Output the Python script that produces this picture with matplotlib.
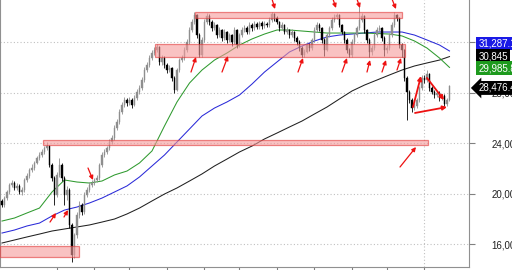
import numpy as np
import matplotlib.pyplot as plt
from matplotlib.patches import Rectangle

plt.rcParams['font.family'] = ['Liberation Sans', 'DejaVu Sans']

# daily candles (index 0..179)
closes = [19090, 19640, 20120, 20670, 20830, 20440, 20600, 20120, 20280, 21070,
          21390, 21860, 22020, 22420, 22810, 23050, 23290, 23600, 23760, 22260,
          21230, 19880, 21470, 22260, 21230, 19880, 20280, 17510, 15130, 16710,
          18300, 19090, 18540, 19880, 20280, 20670, 20830, 21070, 21230, 22260,
          23050, 23290, 23600, 24080, 24400, 25190, 25660, 26460, 27010, 27410,
          27170, 27410, 27010, 27560, 28040, 28360, 28990, 29780, 30180, 30730,
          31130, 31370, 31600, 30420, 30730, 30180, 29780, 29940, 29150, 28200,
          29780, 30570, 30730, 31370, 32000, 32950, 33580, 34140, 32550, 30970,
          32160, 33580, 34060, 33580, 33110, 33350, 32550, 32950, 32320, 32790,
          32160, 32550, 32000, 32950, 31760, 32550, 32950, 33110, 32790, 33350,
          33110, 33430, 33190, 33500, 33270, 33430, 33350, 33740, 34220, 33900,
          33580, 33110, 33350, 32790, 32950, 32550, 32790, 32320, 32000, 31520,
          30970, 31210, 31760, 31520, 32160, 32950, 33350, 33110, 32160, 31370,
          32550, 33110, 33740, 33980, 34140, 33350, 32790, 32160, 31370, 30970,
          32000, 32550, 33110, 33740, 34060, 32950, 32160, 31210, 31520, 32550,
          32950, 33110, 32320, 31370, 31520, 32550, 33350, 34140, 33900, 31760,
          31370, 29150, 28040, 27410, 26770, 26930, 27410, 28360, 29150, 28990,
          29470, 28360, 28040, 27800, 27960, 27560, 27720, 27090, 27410, 28476.4]
highs = [19600, 19800, 20300, 20850, 21050, 21000, 20800, 20750, 20500, 21250,
         21600, 22050, 22300, 22600, 23000, 23250, 23500, 23800, 24100, 23850,
         22400, 21400, 21700, 22800, 22400, 21350, 20600, 20400, 17700, 16900,
         18500, 19400, 19250, 20100, 20500, 20900, 21050, 21250, 21450, 22450,
         23250, 23500, 23800, 24300, 24600, 25400, 25900, 26700, 27250, 27650,
         27600, 27650, 27550, 27800, 28250, 28600, 29250, 30000, 30450, 30950,
         31350, 31600, 31840, 31700, 31000, 30900, 30350, 30200, 30050, 29300,
         29950, 30750, 30950, 31600, 32250, 33200, 33800, 34350, 34250, 32700,
         32400, 33800, 34300, 34200, 33750, 33600, 33450, 33150, 33050, 33000,
         32900, 32750, 32650, 33150, 33050, 32750, 33150, 33350, 33250, 33550,
         33500, 33650, 33600, 33700, 33650, 33650, 33600, 33950, 34380, 34300,
         34050, 33700, 33550, 33450, 33150, 33050, 33000, 32900, 32450, 32150,
         31650, 31450, 31950, 31900, 32350, 33150, 33550, 33500, 33200, 32300,
         32750, 33300, 33950, 34200, 34300, 34250, 33450, 32900, 32300, 31500,
         32200, 32750, 33300, 35090, 34300, 34150, 33050, 32300, 31750, 32750,
         33150, 33350, 33200, 32450, 31750, 32750, 33550, 34380, 34250, 34000,
         31900, 31450, 29300, 28200, 27550, 27150, 27600, 28550, 29350, 29400,
         29780, 29550, 28500, 28200, 28150, 28100, 27900, 27850, 27600, 28560]
lows = [18900, 18950, 19500, 20000, 20500, 20300, 20250, 19950, 19900, 20150,
        20900, 21250, 21700, 21900, 22300, 22650, 22900, 23150, 23450, 22100,
        21000, 19090, 19700, 21300, 21000, 19090, 19500, 17300, 14580, 14900,
        16500, 18100, 18300, 18400, 19700, 20100, 20500, 20650, 20900, 21100,
        22100, 22900, 23150, 23450, 23900, 24250, 25000, 25500, 26300, 26850,
        26900, 27000, 26800, 26900, 27400, 27900, 28200, 28800, 29600, 30000,
        30550, 31000, 31200, 30200, 30200, 29950, 29550, 29600, 28950, 27960,
        28100, 29600, 30400, 30600, 31200, 31850, 32800, 33400, 32350, 30810,
        30850, 32000, 33400, 33350, 32900, 32950, 32300, 32400, 32100, 32150,
        31900, 32000, 31700, 31850, 31500, 31600, 32400, 32800, 32600, 32650,
        32900, 32950, 33000, 33050, 33050, 33100, 33150, 33200, 33600, 33700,
        33400, 32900, 32950, 32600, 32600, 32350, 32400, 32100, 31800, 31300,
        30810, 30850, 31100, 31300, 31400, 32000, 32800, 32900, 31950, 30890,
        31250, 32400, 32950, 33600, 33800, 33150, 32600, 31950, 31150, 30810,
        30850, 31850, 32400, 32950, 33600, 32750, 31950, 30810, 31000, 31400,
        32400, 32800, 32100, 30890, 31150, 31400, 32400, 33200, 33650, 31550,
        30810, 28950, 25820, 27150, 26460, 26600, 26750, 27250, 28200, 28750,
        28800, 28150, 27850, 27600, 27650, 27350, 27400, 26930, 26950, 27300]
first_open = 19400
opens = [first_open] + closes[:-1]

# moving averages, read every 5 candles
ma_idx = list(range(0, 180, 5)) + [179]
ma_green = [17820, 18060, 18460, 18850, 20120, 21070, 20910, 20830, 20990, 21470,
            21780, 22420, 23370, 25350, 27250, 28750, 29780, 30570, 31130, 31760,
            32240, 32630, 32950, 32950, 32870, 32790, 32710, 32710, 32710, 32710,
            32670, 32630, 32480, 32080, 31520, 30730, 29985.8]
ma_blue = [16870, 17110, 17430, 17660, 18220, 18690, 18930, 19250, 19640, 20120,
           20600, 21310, 22180, 23050, 24080, 25110, 26140, 26770, 27250, 27800,
           28670, 29620, 30420, 31210, 31680, 32080, 32400, 32550, 32630, 32710,
           32790, 32790, 32790, 32550, 32160, 31760, 31287.1]
ma_black = [16080, 16320, 16560, 16790, 17030, 17190, 17350, 17510, 17740, 17980,
            18380, 18850, 19410, 19960, 20440, 20990, 21550, 22180, 22730, 23290,
            23760, 24320, 24790, 25270, 25740, 26300, 26850, 27490, 28120, 28590,
            28990, 29390, 29780, 30100, 30340, 30570, 30845]

# zones: (start, end, low, high)
zones = [(-0.8, 30.8, 14970, 15840),
         (16.4, 170.4, 23840, 24240),
         (61.2, 161.2, 30810, 31840),
         (77.2, 160.0, 33900, 34380)]

# arrows: (tail_i, tail_p, tip_i, tip_p)
arrows = [(75.6, 29620, 77.6, 30810), (88.0, 29620, 90.4, 30890),
          (118.4, 29620, 120.4, 30730), (136.0, 29620, 138.0, 30730),
          (146.0, 29620, 147.2, 30570), (152.0, 29620, 153.6, 30570),
          (158.0, 29780, 159.6, 30730),
          (108.0, 35400, 109.2, 34610), (132.4, 35400, 133.6, 34690),
          (142.0, 35400, 143.2, 34690), (156.0, 35400, 157.6, 34610),
          (19.2, 17740, 21.6, 18460), (24.8, 18140, 26.4, 18690),
          (34.4, 22020, 36.4, 21070),
          (159.2, 22100, 165.6, 23680)]
trend_arrows = [(164.4, 26850, 167.6, 29310), (170.0, 29150, 176.8, 27410),
                (165.2, 26380, 178.0, 26850)]

tick_idx = [22, 37, 51, 66, 81, 95, 110, 125, 140, 154, 169]
yticks = [16000, 20000, 24000, 28000, 32000]

fig = plt.figure(figsize=(5.12, 2.7), dpi=100)
ax = fig.add_axes([0, 3 / 270, 469 / 512, 267 / 270])
ax.set_xlim(-0.8, 186.8)
ax.set_ylim(14180, 35326)

for y in yticks:
    ax.axhline(y, color='#c0c0c0', lw=0.8, ls=(0, (1, 2)), zorder=0)
ax.axvline(169, color='#c0c0c0', lw=0.8, ls=(0, (1, 2)), zorder=0)

idx = np.arange(len(closes))
o = np.array(opens, dtype=float)
c = np.array(closes, dtype=float)
up = c >= o
cols = np.where(up, '#8e8e8e', '#000000')
ax.vlines(idx, lows, highs, colors=cols, lw=0.6, zorder=3)
ax.bar(idx, np.abs(c - o) + 30, bottom=np.minimum(o, c), width=0.6,
       color=cols, edgecolor=cols, lw=0.3, zorder=3)

ax.plot(ma_idx, ma_black, color='#202020', lw=0.75, zorder=2)
ax.plot(ma_idx, ma_blue, color='#2a2ad8', lw=0.75, zorder=2)
ax.plot(ma_idx, ma_green, color='#2f9a2f', lw=0.75, zorder=2)

for x0, x1, lo, hi in zones:
    ax.add_patch(Rectangle((x0, lo), x1 - x0, hi - lo, facecolor='#f59a9a',
                           edgecolor='#e23a3a', lw=0.9, alpha=0.6, zorder=4,
                           clip_on=False))

for tx, ty, hx, hy in arrows:
    ax.annotate('', xy=(hx, hy), xytext=(tx, ty), annotation_clip=False,
                arrowprops=dict(arrowstyle='-|>', color='#ee1111', lw=0.9,
                                mutation_scale=6, shrinkA=0, shrinkB=0), zorder=5)
for tx, ty, hx, hy in trend_arrows:
    ax.annotate('', xy=(hx, hy), xytext=(tx, ty),
                arrowprops=dict(arrowstyle='-|>', color='#ee1111', lw=1.3,
                                mutation_scale=6, shrinkA=0, shrinkB=0), zorder=5)

ax.yaxis.tick_right()
ax.set_yticks(yticks)
ax.set_yticklabels(['{:,}'.format(v) for v in yticks])
ax.set_xticks(tick_idx)
ax.set_xticklabels([])
ax.tick_params(axis='y', direction='out', length=4, pad=12, labelsize=7,
               color='#808080', labelcolor='#202020')
ax.tick_params(axis='x', direction='out', length=3, color='#808080')
for s in ['left', 'right', 'bottom']:
    ax.spines[s].set_color('#909090')
ax.spines['top'].set_visible(False)

tr = ax.get_yaxis_transform()
labels = [('31,287.1', 31880, '#1a1ae6'), ('30,845', 30890, '#000000'),
          ('29,985.8', 29940, '#1e9a1e')]
for txt, yy, bg in labels:
    ax.text(1.02, yy, txt, transform=tr, ha='left', va='center', fontsize=7,
            color='white', clip_on=False, zorder=6,
            bbox=dict(boxstyle='square,pad=0.2', fc=bg, ec='none'))
ax.text(1.02, 28360, '28,476.4', transform=tr, ha='left', va='center', fontsize=7,
        color='white', clip_on=False, zorder=6,
        bbox=dict(boxstyle='larrow,pad=0.2', fc='#000000', ec='none'))

fig.savefig('out.png', dpi=100)
